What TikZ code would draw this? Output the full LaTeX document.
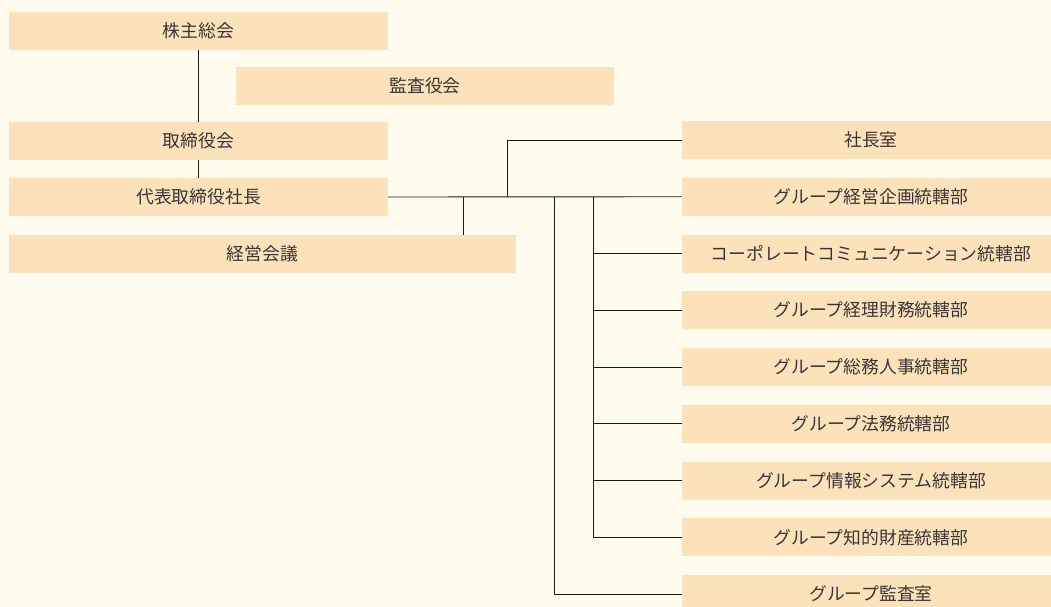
\documentclass[tikz,border=0pt]{standalone}
\usepackage{fontspec}
\setmainfont{Noto Sans CJK JP}
\definecolor{bgc}{RGB}{255,252,238}
\definecolor{boxc}{RGB}{252,226,187}
\definecolor{txtc}{RGB}{58,54,53}
\definecolor{linec}{RGB}{35,24,21}
\begin{document}
\begin{tikzpicture}[x=1pt,y=-1pt,
  orgbox/.style={rectangle,fill=boxc,inner sep=0pt,minimum height=38pt,text=txtc,font=\fontsize{17.8pt}{20pt}\selectfont},
  conn/.style={draw=linec,line width=0.9pt}]
\useasboundingbox (0,0) rectangle (1051,607);
\clip (0,0) rectangle (1051,607);
\fill[bgc] (0,0) rectangle (1051,607);
% left column
\node[orgbox,minimum width=379pt] (a) at (198.5,31) {株主総会};
\node[orgbox,minimum width=378pt] (k) at (425,86) {監査役会};
\node[orgbox,minimum width=379pt] (b) at (198.5,141) {取締役会};
\node[orgbox,minimum width=379pt] (p) at (198.5,197) {代表取締役社長};
\node[orgbox,minimum width=507pt] (m) at (262.5,254) {経営会議};
% right column
\node[orgbox,minimum width=378pt] (r1) at (871,140) {社長室};
\node[orgbox,minimum width=378pt] (r2) at (871,196.75) {グループ経営企画統轄部};
\node[orgbox,minimum width=378pt] (r3) at (871,253.5) {コーポレートコミュニケーション統轄部};
\node[orgbox,minimum width=378pt] (r4) at (871,310.25) {グループ経理財務統轄部};
\node[orgbox,minimum width=378pt] (r5) at (871,367) {グループ総務人事統轄部};
\node[orgbox,minimum width=378pt] (r6) at (871,423.75) {グループ法務統轄部};
\node[orgbox,minimum width=378pt] (r7) at (871,480.5) {グループ情報システム統轄部};
\node[orgbox,minimum width=378pt] (r8) at (871,537.25) {グループ知的財産統轄部};
\node[orgbox,minimum width=378pt] (r9) at (871,594) {グループ監査室};
% junctions
\coordinate (j1) at (463,197);
\coordinate (j2) at (507,197);
\coordinate (j3) at (554,197);
\coordinate (j4) at (593,197);
% connectors
\draw[conn] (a.south) -- (b.north);
\draw[conn] (b.south) -- (p.north);
\draw[conn] (p.east) -- (r2.west);
\draw[conn] (j1) -- (j1 |- m.north);
\draw[conn] (j2) |- (r1.west);
\draw[conn] (j3) |- (r9.west);
\foreach \i in {3,...,8} {\draw[conn] (j4) |- (r\i.west);}
\end{tikzpicture}
\end{document}
